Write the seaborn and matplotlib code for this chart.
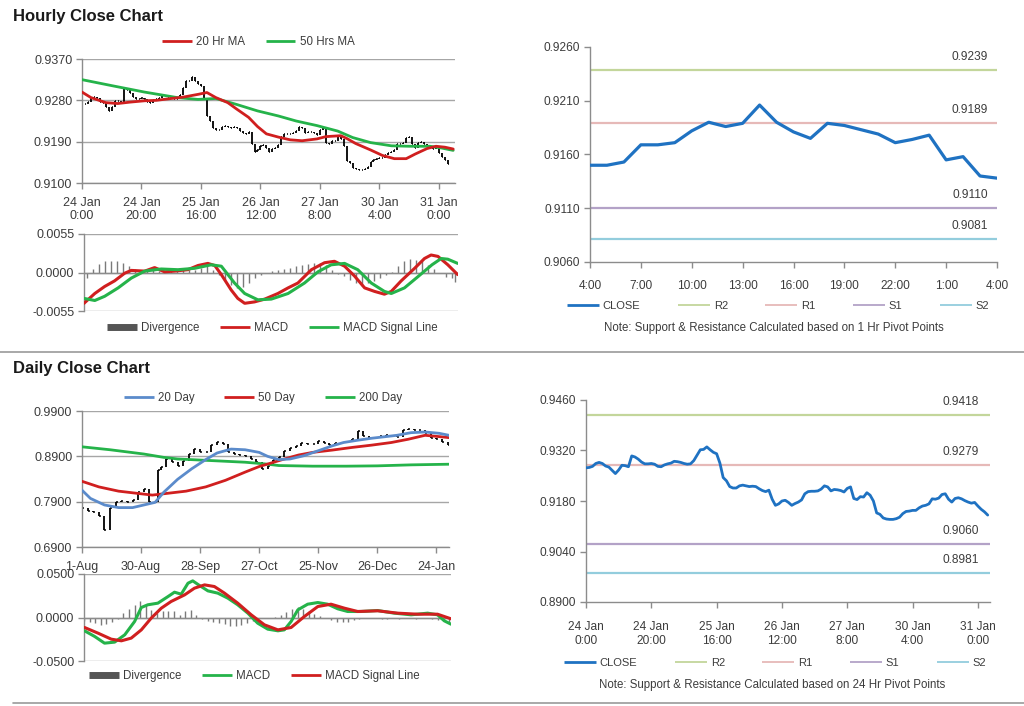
import numpy as np
import matplotlib
matplotlib.use("Agg")
import matplotlib.pyplot as plt
import seaborn as sns
from matplotlib.lines import Line2D

# ---------------- data ----------------
hourly_close = [0.9272, 0.9273, 0.9276, 0.9284, 0.9287, 0.9284, 0.9277, 0.9274, 0.9265, 0.9256,
                0.9266, 0.9279, 0.9278, 0.9275, 0.9305, 0.9302, 0.9296, 0.9288, 0.9283, 0.9283,
                0.9284, 0.9282, 0.9276, 0.9275, 0.9280, 0.9283, 0.9285, 0.9290, 0.9289, 0.9287,
                0.9284, 0.9282, 0.9283, 0.9292, 0.9307, 0.9322, 0.9323, 0.9330, 0.9322, 0.9315,
                0.9311, 0.9285, 0.9245, 0.9236, 0.9220, 0.9216, 0.9216, 0.9222, 0.9224, 0.9222,
                0.9220, 0.9221, 0.9220, 0.9214, 0.9209, 0.9206, 0.9210, 0.9185, 0.9168, 0.9172,
                0.9180, 0.9182, 0.9176, 0.9168, 0.9173, 0.9177, 0.9183, 0.9200, 0.9206, 0.9207,
                0.9207, 0.9208, 0.9213, 0.9222, 0.9219, 0.9208, 0.9212, 0.9211, 0.9209, 0.9205,
                0.9215, 0.9219, 0.9187, 0.9184, 0.9192, 0.9191, 0.9203, 0.9196, 0.9180, 0.9147,
                0.9143, 0.9133, 0.9130, 0.9129, 0.9129, 0.9131, 0.9135, 0.9145, 0.9151, 0.9152,
                0.9154, 0.9154, 0.9161, 0.9166, 0.9168, 0.9172, 0.9186, 0.9185, 0.9188, 0.9198,
                0.9200, 0.9185, 0.9177, 0.9187, 0.9189, 0.9186, 0.9181, 0.9177, 0.9174, 0.9176,
                0.9166, 0.9157, 0.9150, 0.9141]
hourly_ticks = [0, 20, 40, 60, 80, 100, 120]
hourly_tick_labels = ["24 Jan\n0:00", "24 Jan\n20:00", "25 Jan\n16:00", "26 Jan\n12:00",
                      "27 Jan\n8:00", "30 Jan\n4:00", "31 Jan\n0:00"]

ma20_hr_x = [0, 3, 8, 12, 16, 21, 25, 30, 34, 39, 42, 45, 49, 52, 56, 59, 62, 66, 70, 74, 79, 82,
             87, 89, 92, 97, 101, 105, 109, 112, 116, 119, 122, 124.8]
ma20_hr = [0.9298, 0.9286, 0.9275, 0.9273, 0.9276, 0.9279, 0.9280, 0.9284, 0.9287, 0.9293, 0.9297,
           0.9286, 0.9275, 0.9261, 0.9243, 0.9223, 0.9207, 0.9200, 0.9194, 0.9192, 0.9196, 0.9201,
           0.9203, 0.9197, 0.9186, 0.9172, 0.9160, 0.9153, 0.9153, 0.9163, 0.9175, 0.9180, 0.9178,
           0.9174]
ma50_hr_x = [0, 10, 21, 32, 39, 45, 52, 59, 66, 72, 79, 86, 91, 97, 104, 110, 117, 121, 124.8]
ma50_hr = [0.9325, 0.9312, 0.9298, 0.9286, 0.9282, 0.9284, 0.9271, 0.9257, 0.9246, 0.9235,
           0.9225, 0.9213, 0.9199, 0.9188, 0.9181, 0.9180, 0.9180, 0.9176, 0.9171]

macd_hr_x = [0, 3.6, 6.9, 10.2, 13.6, 15.8, 20.3, 23.6, 26.9, 30.3, 34.7, 38.1, 41.4, 43.7, 45.9,
             49.2, 51.4, 53.7, 57, 60.4, 64.8, 68.2, 71.5, 76, 80.4, 83.7, 87.1, 90.4, 93.8, 97.1,
             100.4, 102.7, 106, 110.5, 113.8, 116, 118.3, 121.6, 124.9]
macd_hr = [-0.0044, -0.0030, -0.0020, -0.0012, -0.0001, 0.0003, 0.0002, 0.0007, 0.0001, 0.0002,
           0.0004, 0.0010, 0.0013, 0.0010, -0.0003, -0.0025, -0.0037, -0.0044, -0.0042, -0.0038,
           -0.0030, -0.0022, -0.0015, 0.0004, 0.0014, 0.0016, 0.0009, -0.0005, -0.0022, -0.0027,
           -0.0031, -0.0027, -0.0012, 0.0006, 0.0020, 0.0025, 0.0023, 0.0011, -0.0003]
signal_hr_x = [0, 3.6, 6.9, 11.4, 15.8, 20.3, 25.8, 31.4, 37, 42.5, 45.9, 50.3, 53.7, 58.1, 62.6,
               68.2, 73.7, 78.2, 82.6, 87.1, 91.5, 96, 100.4, 102.7, 107.1, 111.6, 116.3, 119.4,
               121.6, 124.9]
signal_hr = [-0.0037, -0.0040, -0.0034, -0.0022, -0.0008, 0.0002, 0.0005, 0.0004, 0.0006, 0.0011,
             0.0009, -0.0015, -0.0030, -0.0039, -0.0038, -0.0030, -0.0015, 0.0001, 0.0011, 0.0013,
             0.0004, -0.0015, -0.0027, -0.0030, -0.0022, -0.0006, 0.0011, 0.0020, 0.0019, 0.0013]
div_hr_x = [1, 3, 5, 7, 9, 11, 13, 15, 17, 19, 21, 23, 25, 27, 29, 31, 33, 35, 37, 39, 41, 43, 45,
            47, 49, 51, 53, 55, 57, 59, 61, 63, 65, 67, 69, 71, 73, 75, 77, 79, 81, 83, 85, 87, 89,
            91, 93, 95, 97, 99, 101, 103, 105, 107, 109, 111, 113, 115, 117, 119, 121, 123, 124]
div_hr = [-0.0008, 0.0005, 0.0012, 0.0016, 0.0017, 0.0016, 0.0013, 0.0010, 0.0005, 0.0002,
          0.0002, 0.0003, 0.0002, 0.0001, 0.0002, 0.0002, 0.0003, 0.0003, 0.0004, 0.0007,
          0.0009, 0.0004, -0.0003, -0.0010, -0.0018, -0.0022, -0.0021, -0.0015, -0.0008, -0.0003,
          -0.0001, 0.0002, 0.0004, 0.0005, 0.0007, 0.0009, 0.0011, 0.0012, 0.0014, 0.0014,
          0.0011, 0.0004, -0.0002, -0.0005, -0.0010, -0.0015, -0.0019, -0.0015, -0.0012, -0.0008,
          -0.0003, 0.0001, 0.0009, 0.0016, 0.0020, 0.0018, 0.0016, 0.0011, 0.0005, -0.0001,
          -0.0006, -0.0008, -0.0013]

pivot_1h_labels = ["4:00", "5:00", "6:00", "7:00", "8:00", "9:00", "10:00", "11:00", "12:00",
                   "13:00", "14:00", "15:00", "16:00", "17:00", "18:00", "19:00", "20:00", "21:00",
                   "22:00", "23:00", "0:00", "1:00", "2:00", "3:00", "4:00"]
pivot_1h_close = [0.9150, 0.9150, 0.9153, 0.9169, 0.9169, 0.9171, 0.9182, 0.9190, 0.9186, 0.9189,
                  0.9206, 0.9190, 0.9181, 0.9175, 0.9189, 0.9187, 0.9183, 0.9179, 0.9171, 0.9174,
                  0.9178, 0.9155, 0.9158, 0.9140, 0.9138]
pivot_names = ["R2", "R1", "S1", "S2"]
pivot_1h_levels = [0.9239, 0.9189, 0.9110, 0.9081]
pivot_24h_levels = [0.9418, 0.9279, 0.9060, 0.8981]

daily_x = [0, 2, 4, 6, 8, 10, 12, 14, 16, 18, 20, 22, 24, 26, 27, 28, 30, 32, 34, 36, 38, 40, 42,
           44, 46, 48, 50, 52, 54, 56, 58, 60, 62, 64, 66, 68, 70, 72, 74, 76, 78, 80, 82, 84, 86,
           88, 90, 92, 94, 96, 98, 100, 102, 104, 106, 108, 110, 112, 114, 116, 118, 120, 122, 124,
           126, 128, 130]
daily_close = [0.7755, 0.7697, 0.7668, 0.7573, 0.7283, 0.7755, 0.7900, 0.7914, 0.7900, 0.7936,
               0.8103, 0.8190, 0.7900, 0.7900, 0.8588, 0.8661, 0.8842, 0.8770, 0.8697, 0.8806,
               0.8951, 0.9060, 0.9002, 0.8987, 0.9147, 0.9219, 0.9168, 0.9002, 0.8951, 0.8929,
               0.8915, 0.8842, 0.8784, 0.8625, 0.8697, 0.8828, 0.8878, 0.9023, 0.9074, 0.9132,
               0.9190, 0.9168, 0.9168, 0.9241, 0.9190, 0.9147, 0.9205, 0.9205, 0.9219, 0.9277,
               0.9458, 0.9350, 0.9313, 0.9313, 0.9350, 0.9364, 0.9350, 0.9335, 0.9480, 0.9495,
               0.9480, 0.9480, 0.9422, 0.9313, 0.9277, 0.9219, 0.9147]
daily_ticks = [0, 21, 42, 63, 84, 105, 126]
daily_tick_labels = ["1-Aug", "30-Aug", "28-Sep", "27-Oct", "25-Nov", "26-Dec", "24-Jan"]

ma20_d_x = [0, 3, 8, 13, 18, 22, 26, 29, 34, 39, 44, 48, 53, 58, 63, 66, 70, 74, 79, 84, 89, 93,
            98, 103, 108, 112, 117, 122, 127, 130.5]
ma20_d = [0.8153, 0.7972, 0.7827, 0.7769, 0.7769, 0.7827, 0.7885, 0.8103, 0.8393, 0.8625, 0.8828,
          0.8973, 0.9060, 0.9045, 0.8987, 0.8900, 0.8828, 0.8842, 0.8915, 0.9023, 0.9132, 0.9205,
          0.9255, 0.9299, 0.9335, 0.9364, 0.9422, 0.9437, 0.9408, 0.9364]
ma50_d_x = [0, 6, 13, 20, 25, 29, 37, 44, 51, 58, 63, 67, 72, 77, 82, 89, 96, 103, 110, 116, 122,
            127, 130.5]
ma50_d = [0.8349, 0.8226, 0.8132, 0.8081, 0.8045, 0.8074, 0.8132, 0.8226, 0.8371, 0.8552, 0.8675,
          0.8748, 0.8842, 0.8929, 0.8987, 0.9038, 0.9096, 0.9147, 0.9205, 0.9277, 0.9364, 0.9335,
          0.9313]
ma200_d_x = [0, 10, 22, 29, 34, 46, 58, 65, 70, 82, 94, 105, 117, 130.5]
ma200_d = [0.9110, 0.9045, 0.8951, 0.8878, 0.8842, 0.8806, 0.8770, 0.8733, 0.8697, 0.8683, 0.8683,
           0.8690, 0.8712, 0.8726]

macd_d_x = [0.2, 3.8, 7.3, 10.9, 14.5, 18, 20.4, 22.7, 26.3, 29.9, 32.2, 34.6, 37, 38.7, 41.1,
            44.1, 47.6, 51.2, 54.7, 58.3, 61.8, 65.4, 69, 71.3, 73.7, 76.1, 79.6, 83.2, 86.7, 90.3,
            93.8, 98.6, 104.5, 110.4, 116.4, 122.3, 125.8, 128.2, 130.6]
macd_d = [-0.0153, -0.0218, -0.0295, -0.0283, -0.0199, -0.0046, 0.0115, 0.0146, 0.0165, 0.0241,
          0.0291, 0.0268, 0.0394, 0.0421, 0.0368, 0.0306, 0.0280, 0.0222, 0.0146, 0.0050, -0.0065,
          -0.0134, -0.0153, -0.0142, -0.0046, 0.0088, 0.0153, 0.0172, 0.0153, 0.0100, 0.0069,
          0.0069, 0.0080, 0.0050, 0.0031, 0.0050, 0.0031, -0.0038, -0.0077]
signal_d_x = [0.2, 5, 9.7, 13.3, 16.8, 20.4, 23.9, 27.5, 31, 35.8, 39.3, 42.9, 46.4, 50, 54.7,
              59.5, 64.2, 69, 73.7, 78.4, 83.2, 87.9, 92.7, 97.4, 104.5, 111.6, 118.7, 125.8, 130.6]
signal_d = [-0.0115, -0.0180, -0.0249, -0.0268, -0.0237, -0.0142, -0.0008, 0.0107, 0.0184, 0.0260,
            0.0337, 0.0375, 0.0356, 0.0280, 0.0165, 0.0031, -0.0084, -0.0142, -0.0115, 0.0011,
            0.0126, 0.0153, 0.0107, 0.0069, 0.0077, 0.0050, 0.0038, 0.0038, -0.0015]
div_d_x = list(range(0, 131, 2))
div_d = [-0.0038, -0.0046, -0.0065, -0.0084, -0.0077, -0.0046, -0.0015, 0.0050, 0.0100, 0.0146,
         0.0184, 0.0146, 0.0088, 0.0050, 0.0069, 0.0077, 0.0069, 0.0031, 0.0077, 0.0088, 0.0023,
         -0.0015, -0.0038, -0.0046, -0.0065, -0.0077, -0.0092, -0.0103, -0.0084, -0.0065, -0.0038,
         -0.0019, -0.0008, 0.0000, 0.0008, 0.0031, 0.0061, 0.0100, 0.0115, 0.0100, 0.0069, 0.0038,
         0.0015, -0.0008, -0.0027, -0.0046, -0.0054, -0.0046, -0.0027, -0.0015, -0.0008, -0.0011,
         -0.0008, -0.0019, -0.0015, -0.0008, -0.0015, -0.0008, -0.0008, -0.0015, -0.0011, -0.0008,
         -0.0019, -0.0027, -0.0038, -0.0054]

# ---------------- style ----------------
sns.set_theme(style="white")
plt.rcParams["font.family"] = ["Liberation Sans", "DejaVu Sans"]
TXT = "#3c3c3c"
AXC = "#8c8c8c"
RED = "#d01f1f"
GREEN = "#25b34a"
BLUE = "#5b8bcb"
CLOSE_BLUE = "#1f72c2"
PIV_COLORS = ["#c3d69b", "#e6b9b8", "#b3a2c7", "#93cddd"]
DIVC = "#7a7a7a"

W, H = 1024, 706
fig = plt.figure(figsize=(W / 100, H / 100), dpi=100)


def rect(l, t, r, b):
    return [l / W, 1 - b / H, (r - l) / W, (b - t) / H]


def style(ax, fs=9):
    for s in ["top", "right"]:
        ax.spines[s].set_visible(False)
    for s in ["left", "bottom"]:
        ax.spines[s].set_color(AXC)
        ax.spines[s].set_linewidth(1.0)
    ax.tick_params(axis="both", colors=AXC, labelcolor=TXT, labelsize=fs,
                   direction="out", length=4, width=1, left=True, bottom=True)
    ax.tick_params(axis="y", pad=3)


def flegend(handles, labels, cx, cy, colsp=2.0, hl=2.6, fs=8.3):
    fig.legend(handles, labels, loc="center", bbox_to_anchor=(cx / W, 1 - cy / H),
               ncol=len(handles), frameon=False, fontsize=fs, handlelength=hl,
               handletextpad=0.35, columnspacing=colsp, labelcolor=TXT, borderpad=0)


def line(c, lw=2):
    return Line2D([], [], color=c, lw=lw, solid_capstyle="butt")


def candles(ax, xs, ys, tick):
    xs = np.asarray(xs, float)
    ys = np.asarray(ys, float)
    prev = np.r_[ys[0], ys[:-1]]
    ax.vlines(xs, np.minimum(prev, ys), np.maximum(prev, ys), color="black", lw=1.3, zorder=2)
    ax.hlines(ys, xs, xs + tick, color="black", lw=1.1, zorder=2)


def macd_axes(ax, xs_d, d, xs_m, m, xs_s, s, cm, cs, lim, xmax, fmt):
    ax.vlines(np.asarray(xs_d), 0, d, color=DIVC, lw=1.0, zorder=1)
    sns.lineplot(x=xs_m, y=m, ax=ax, color=cm, lw=2.2, legend=False, zorder=3)
    sns.lineplot(x=xs_s, y=s, ax=ax, color=cs, lw=2.2, legend=False, zorder=3)
    ax.set_xlim(0, xmax)
    ax.set_ylim(-lim, lim)
    ax.set_yticks([-lim, 0, lim])
    ax.set_yticklabels([fmt % v for v in [-lim, 0, lim]])
    ax.yaxis.grid(True, color="#a6a6a6", lw=1.0)
    ax.axhline(0, color=AXC, lw=1.0, zorder=2)
    ax.spines["bottom"].set_visible(False)
    ax.set_xticks([])
    ax.set_xlabel("")
    ax.set_ylabel("")


# ---------------- titles / separators ----------------
fig.text(13 / W, 1 - 16 / H, "Hourly Close Chart", fontsize=12, fontweight="bold",
         color="#1a1a1a", va="center", ha="left")
fig.text(13 / W, 1 - 369 / H, "Daily Close Chart", fontsize=12, fontweight="bold",
         color="#1a1a1a", va="center", ha="left")
fig.add_artist(Line2D([0, 1], [1 - 352 / H] * 2, color="#9a9a9a", lw=1.2))
fig.add_artist(Line2D([13 / W, 1], [1 - 703 / H] * 2, color="#9a9a9a", lw=1.2))

# ---------------- hourly price ----------------
ax1 = fig.add_axes(rect(82, 59, 455, 183))
style(ax1)
hx = np.arange(len(hourly_close))
candles(ax1, hx, hourly_close, 0.35)
sns.lineplot(x=ma50_hr_x, y=ma50_hr, ax=ax1, color=GREEN, lw=2, legend=False, zorder=3)
sns.lineplot(x=ma20_hr_x, y=ma20_hr, ax=ax1, color=RED, lw=2, legend=False, zorder=4)
ax1.set_xlim(0, 125.4)
ax1.set_ylim(0.9100, 0.9370)
ax1.set_yticks([0.9100, 0.9190, 0.9280, 0.9370])
ax1.set_yticklabels(["%.4f" % v for v in [0.9100, 0.9190, 0.9280, 0.9370]])
ax1.yaxis.grid(True, color="#a6a6a6", lw=1.0)
ax1.set_xticks(hourly_ticks)
ax1.set_xticklabels(hourly_tick_labels, linespacing=1.15)
ax1.tick_params(axis="x", pad=6)
ax1.set_xlabel("")
ax1.set_ylabel("")
flegend([line(RED), line(GREEN)], ["20 Hr MA", "50 Hrs MA"], 258, 42, colsp=1.8)

# ---------------- hourly MACD ----------------
ax2 = fig.add_axes(rect(84, 234, 458, 311))
style(ax2)
macd_axes(ax2, div_hr_x, div_hr, macd_hr_x, macd_hr, signal_hr_x, signal_hr, RED, GREEN,
          0.0055, 125, "%.4f")
flegend([line("#555555", 5), line(RED), line(GREEN)], ["Divergence", "MACD", "MACD Signal Line"],
        272, 328, colsp=1.8)

# ---------------- hourly pivot ----------------
ax3 = fig.add_axes(rect(590, 47, 997, 262))
style(ax3, 8.6)
px = np.arange(len(pivot_1h_close))
for lv, c in zip(pivot_1h_levels, PIV_COLORS):
    ax3.axhline(lv, color=c, lw=1.6, zorder=1)
    ax3.annotate("%.4f" % lv, xy=(23.45, lv), xytext=(0, 5), textcoords="offset points",
                 ha="right", va="bottom", fontsize=8.6, color=TXT)
sns.lineplot(x=px, y=pivot_1h_close, ax=ax3, color=CLOSE_BLUE, lw=2.3, legend=False, zorder=3)
ax3.set_xlim(0, 24)
ax3.set_ylim(0.9060, 0.9260)
yt = [0.9060, 0.9110, 0.9160, 0.9210, 0.9260]
ax3.set_yticks(yt)
ax3.set_yticklabels(["%.4f" % v for v in yt])
ax3.set_xticks(px[::3])
ax3.set_xticklabels(pivot_1h_labels[::3])
ax3.tick_params(axis="x", pad=9)
ax3.set_xlabel("")
ax3.set_ylabel("")
flegend([line(CLOSE_BLUE)] + [line(c, 1.3) for c in PIV_COLORS], ["CLOSE"] + pivot_names,
        778, 306, colsp=3.35, hl=2.9, fs=8)
fig.text(774 / W, 1 - 328 / H, "Note: Support & Resistance Calculated based on 1 Hr Pivot Points",
         fontsize=8.3, color=TXT, ha="center", va="center")

# ---------------- daily price ----------------
ax4 = fig.add_axes(rect(82, 411, 449, 547))
style(ax4)
candles(ax4, daily_x, daily_close, 0.7)
sns.lineplot(x=ma200_d_x, y=ma200_d, ax=ax4, color=GREEN, lw=2, legend=False, zorder=3)
sns.lineplot(x=ma50_d_x, y=ma50_d, ax=ax4, color=RED, lw=2, legend=False, zorder=3)
sns.lineplot(x=ma20_d_x, y=ma20_d, ax=ax4, color=BLUE, lw=2, legend=False, zorder=4)
ax4.set_xlim(0, 130.5)
ax4.set_ylim(0.69, 0.99)
yt = [0.69, 0.79, 0.89, 0.99]
ax4.set_yticks(yt)
ax4.set_yticklabels(["%.4f" % v for v in yt])
ax4.yaxis.grid(True, color="#a6a6a6", lw=1.0)
ax4.set_xticks(daily_ticks)
ax4.set_xticklabels(daily_tick_labels)
ax4.tick_params(axis="x", pad=6)
ax4.set_xlabel("")
ax4.set_ylabel("")
flegend([line(BLUE), line(RED), line(GREEN)], ["20 Day", "50 Day", "200 Day"], 263, 398, colsp=2.6)

# ---------------- daily MACD ----------------
ax5 = fig.add_axes(rect(84, 574, 451, 661))
style(ax5)
macd_axes(ax5, div_d_x, div_d, macd_d_x, macd_d, signal_d_x, signal_d, GREEN, RED,
          0.05, 130.6, "%.4f")
flegend([line("#555555", 5), line(GREEN), line(RED)], ["Divergence", "MACD", "MACD Signal Line"],
        254, 676, colsp=1.8)

# ---------------- 24h pivot ----------------
ax6 = fig.add_axes(rect(586, 400, 990, 602))
style(ax6, 8.6)
for lv, c in zip(pivot_24h_levels, PIV_COLORS):
    ax6.axhline(lv, color=c, lw=1.6, zorder=1)
    ax6.annotate("%.4f" % lv, xy=(120.4, lv), xytext=(0, 5), textcoords="offset points",
                 ha="right", va="bottom", fontsize=8.6, color=TXT)
sns.lineplot(x=hx, y=hourly_close, ax=ax6, color=CLOSE_BLUE, lw=2.0, legend=False, zorder=3)
ax6.set_xlim(0, 123.7)
ax6.set_ylim(0.8900, 0.9460)
yt = [0.8900, 0.9040, 0.9180, 0.9320, 0.9460]
ax6.set_yticks(yt)
ax6.set_yticklabels(["%.4f" % v for v in yt])
ax6.set_xticks(hourly_ticks)
ax6.set_xticklabels(hourly_tick_labels, linespacing=1.15)
ax6.tick_params(axis="x", pad=10)
ax6.set_xlabel("")
ax6.set_ylabel("")
flegend([line(CLOSE_BLUE)] + [line(c, 1.3) for c in PIV_COLORS], ["CLOSE"] + pivot_names,
        775, 663, colsp=3.35, hl=2.9, fs=8)
fig.text(772 / W, 1 - 685 / H, "Note: Support & Resistance Calculated based on 24 Hr Pivot Points",
         fontsize=8.3, color=TXT, ha="center", va="center")

fig.savefig("out.png", dpi=100)
